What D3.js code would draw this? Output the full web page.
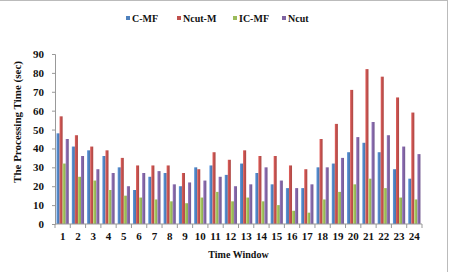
<!DOCTYPE html>
<html><head><meta charset="utf-8">
<script src="https://cdn.jsdelivr.net/npm/d3@7"></script>
<style>body{margin:0;background:#fff}svg{display:block}text{font-family:"Liberation Serif","Times New Roman",serif;font-weight:bold;fill:#111}</style>
</head><body><svg id="c" width="449" height="272"></svg>
<script>
const categories = ["1","2","3","4","5","6","7","8","9","10","11","12","13","14","15","16","17","18","19","20","21","22","23","24"];
const seriesNames = ["C-MF","Ncut-M","IC-MF","Ncut"];
const cmf   = [48,41,39,36,30,18,25,27,20,30,31,26,32,27,21,19,19,30,32,38,43,38,29,24];
const ncutM = [57,47,41,39,35,31,31,31,27,29,38,34,39,36,36,31,29,45,53,71,82,78,67,59];
const icmf  = [32,25,23,18,15,14,13,12,11,14,17,12,14,12,10,7,6,13,17,21,24,19,14,13];
const ncut  = [45,36,29,27,20,27,28,21,22,23,25,20,21,30,23,19,21,30,35,46,54,47,41,37];
const yTicks = [0,10,20,30,40,50,60,70,80,90];
const colors = ["#4F81BD","#C0504D","#9BBB59","#8064A2"];
const series = [cmf, ncutM, icmf, ncut];

const svg = d3.select("#c");
const m = {l:55, r:422, t:54, b:224};
const x0 = d3.scaleBand().domain(categories).range([m.l, m.r]).paddingInner(0.2).paddingOuter(0.1);
const x1 = d3.scaleBand().domain(seriesNames).range([0, x0.bandwidth()]);
const y = d3.scaleLinear().domain([0,90]).range([m.b, m.t]);

// frame
svg.append("line").attr("x1",0).attr("x2",447.5).attr("y1",0.5).attr("y2",0.5).attr("stroke","#bbb");
svg.append("line").attr("x1",447.5).attr("x2",447.5).attr("y1",0).attr("y2",272).attr("stroke","#bbb");

const defs = svg.append("defs");
colors.forEach((c,i)=>{
  const g = defs.append("linearGradient").attr("id","g"+i).attr("x1","0").attr("x2","1").attr("y1","0").attr("y2","0");
  g.append("stop").attr("offset","0").attr("stop-color",d3.color(c).brighter(0.5));
  g.append("stop").attr("offset","0.5").attr("stop-color",c);
  g.append("stop").attr("offset","1").attr("stop-color",d3.color(c).darker(0.3));
});

// y axis
const ya = svg.append("g").attr("transform",`translate(${m.l},0)`).call(d3.axisLeft(y).tickValues(yTicks).tickSize(3).tickPadding(8));
ya.select(".domain").attr("stroke","#999");
ya.selectAll(".tick line").attr("stroke","#999");
ya.selectAll("text").style("font-size","11px");

// bars
series.forEach((vals,si)=>{
  svg.append("g").selectAll("rect").data(vals).join("rect")
    .attr("x",(d,i)=>x0(categories[i])+x1(seriesNames[si]))
    .attr("width",x1.bandwidth())
    .attr("y",d=>y(d)).attr("height",d=>y(0)-y(d))
    .attr("fill",`url(#g${si})`);
});

// x axis
const step = x0.step();
const xa = svg.append("g").attr("transform",`translate(0,${m.b})`);
xa.append("line").attr("x1",m.l).attr("x2",m.r).attr("stroke","#999");
d3.range(categories.length+1).forEach(i=>{
  const xx = m.l + i*step;
  xa.append("line").attr("x1",xx).attr("x2",xx).attr("y1",0).attr("y2",4).attr("stroke","#999");
});
xa.selectAll("text.cat").data(categories).join("text").attr("class","cat")
  .attr("x",d=>x0(d)+x0.bandwidth()/2).attr("y",16).attr("text-anchor","middle").style("font-size","11px").text(d=>d);

svg.append("text").attr("x",(m.l+m.r)/2).attr("y",258).attr("text-anchor","middle").style("font-size","10px").text("Time Window");
svg.append("text").attr("transform",`translate(21,122) rotate(-90)`).attr("text-anchor","middle").style("font-size","11px").text("The Processing Time (sec)");

// legend
const lx = [126,177,233,282];
seriesNames.forEach((n,i)=>{
  svg.append("rect").attr("x",lx[i]).attr("y",16).attr("width",4).attr("height",4).attr("fill",colors[i]);
  svg.append("text").attr("x",lx[i]+6).attr("y",21.5).style("font-size","10px").text(n);
});
</script></body></html>
